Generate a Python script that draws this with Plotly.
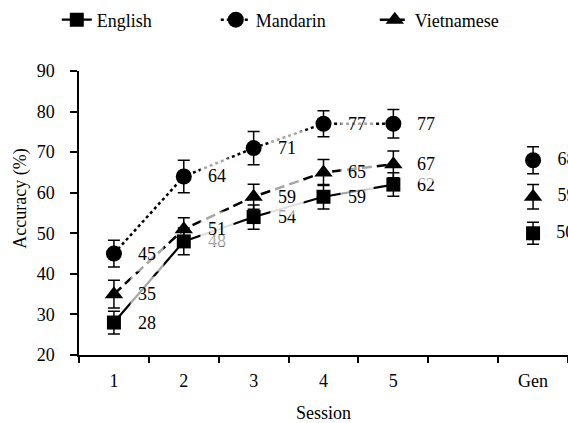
import plotly.graph_objects as go
import numpy as np

# ---- data ----
categories = ["1", "2", "3", "4", "5", "", "Gen"]
session_labels = ["1", "2", "3", "4", "5"]
gen_label = "Gen"

series_names = ["English", "Mandarin", "Vietnamese"]

english = [28, 48, 54, 59, 62]
english_err = [2.8, 3.3, 3.0, 3.0, 2.9]
english_gen = [50]
english_gen_err = [2.7]

mandarin = [45, 64, 71, 77, 77]
mandarin_err = [3.3, 4.0, 4.1, 3.2, 3.5]
mandarin_gen = [68]
mandarin_gen_err = [3.3]

vietnamese = [35, 51, 59, 65, 67]
vietnamese_err = [3.4, 2.8, 3.1, 3.2, 3.3]
vietnamese_gen = [59]
vietnamese_gen_err = [3.0]

y_ticks = [20, 30, 40, 50, 60, 70, 80, 90]

# ---- styling ----
FONT = "Liberation Serif, Times New Roman, DejaVu Serif, serif"
FS = 18
pos = {c: i + 1 for i, c in enumerate(categories)}
session_x = [pos[s] for s in session_labels]
gen_x = [pos[gen_label]]
boundaries = list(np.arange(0.5, len(categories) + 1, 1.0))

styles = {
    "English": dict(symbol="square", size=14, dash="solid", width=2.2),
    "Mandarin": dict(symbol="circle", size=16, dash="dot", width=2.5),
    "Vietnamese": dict(symbol="triangle-up", size=16, dash="10px,5px", width=2.5),
}
data = {
    "English": (english, english_err, english_gen, english_gen_err),
    "Mandarin": (mandarin, mandarin_err, mandarin_gen, mandarin_gen_err),
    "Vietnamese": (vietnamese, vietnamese_err, vietnamese_gen, vietnamese_gen_err),
}

fig = go.Figure()
annotations = []
for name in series_names:
    vals, errs, gvals, gerrs = data[name]
    st = styles[name]
    err_style = dict(type="data", visible=True, color="black", thickness=1.5, width=6)
    fig.add_trace(go.Scatter(
        x=session_x, y=vals, name=name, mode="lines+markers",
        line=dict(color="black", width=st["width"], dash=st["dash"]),
        marker=dict(symbol=st["symbol"], size=st["size"], color="black"),
        error_y=dict(array=errs, **err_style),
        legendgroup=name,
    ))
    fig.add_trace(go.Scatter(
        x=gen_x, y=gvals, name=name, mode="markers+text", showlegend=False,
        marker=dict(symbol=st["symbol"], size=st["size"], color="black"),
        error_y=dict(array=gerrs, **err_style),
        text=["   " + str(int(round(v))) for v in gvals],
        textposition="middle right", cliponaxis=False,
        textfont=dict(family=FONT, size=FS, color="black"),
        legendgroup=name,
    ))
    for xv, yv in zip(session_x, vals):
        annotations.append(dict(
            x=xv, y=yv, xref="x", yref="y", text=str(int(round(yv))),
            showarrow=False, xanchor="left", yanchor="middle", xshift=16,
            font=dict(family=FONT, size=FS, color="black"),
            bgcolor="rgba(255,255,255,0.65)", borderpad=4, width=24, height=26,
        ))

annotations.append(dict(
    text="Accuracy (%)", x=(21 - 79) / 489, xref="paper", xanchor="center",
    y=0.55, yref="paper", yanchor="middle", textangle=-90, showarrow=False,
    font=dict(family=FONT, size=FS, color="black"),
))

fig.update_layout(
    width=568, height=423,
    margin=dict(l=79, r=0, t=71, b=68, autoexpand=False),
    paper_bgcolor="white", plot_bgcolor="white",
    font=dict(family=FONT, size=FS, color="black"),
    showlegend=True,
    legend=dict(
        orientation="h", xref="container", yref="container",
        x=0.1, y=1 - 20 / 423, xanchor="left", yanchor="middle",
        entrywidth=114, entrywidthmode="pixels",
        font=dict(family=FONT, size=FS, color="black"),
        bgcolor="rgba(0,0,0,0)",
    ),
    xaxis=dict(
        range=[0.5, len(categories) + 0.5],
        tickmode="array", tickvals=list(pos.values()), ticktext=categories,
        ticks="", showline=True, linecolor="black", linewidth=1.5,
        showgrid=False, zeroline=False, ticklabelstandoff=9,
        minor=dict(tickmode="array", tickvals=boundaries, ticks="outside",
                   ticklen=6, tickcolor="black", tickwidth=1.5, showgrid=False),
        title=dict(text="Session", standoff=16, font=dict(family=FONT, size=FS)),
        tickfont=dict(family=FONT, size=FS, color="black"),
    ),
    yaxis=dict(
        range=[20, 90], tickmode="array", tickvals=y_ticks,
        ticks="outside", ticklen=7, tickwidth=1.5, tickcolor="black",
        showline=True, linecolor="black", linewidth=1.5,
        showgrid=False, zeroline=False, ticklabelstandoff=12,
        tickfont=dict(family=FONT, size=FS, color="black"),
    ),
    annotations=annotations,
)

fig.write_html(
    "out.html",
    config={"displayModeBar": False},
    post_script="document.body.style.margin='0';document.body.style.padding='0';",
)
